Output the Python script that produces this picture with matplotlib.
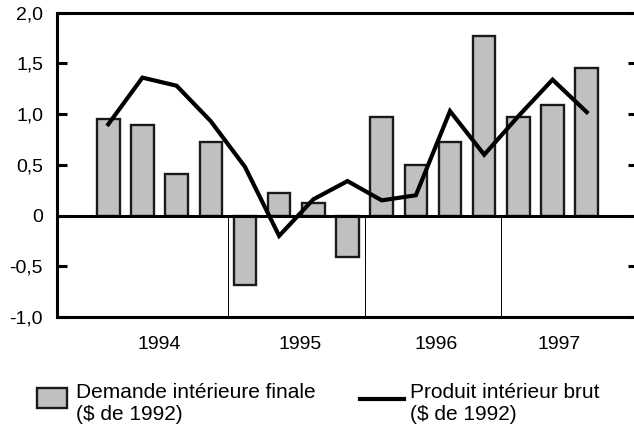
import matplotlib
matplotlib.use("Agg")
import matplotlib.pyplot as plt
from matplotlib.patches import Rectangle
from matplotlib.lines import Line2D
import numpy as np

plt.rcParams['font.family'] = ['Liberation Sans', 'DejaVu Sans']

quarters = ["1994T1", "1994T2", "1994T3", "1994T4",
            "1995T1", "1995T2", "1995T3", "1995T4",
            "1996T1", "1996T2", "1996T3", "1996T4",
            "1997T1", "1997T2", "1997T3"]
demande = [0.95, 0.89, 0.41, 0.73,
           -0.68, 0.22, 0.12, -0.41,
           0.97, 0.50, 0.73, 1.77,
           0.975, 1.09, 1.455]
pib = [0.90, 1.36, 1.28, 0.93,
       0.48, -0.20, 0.16, 0.34,
       0.15, 0.20, 1.03, 0.60,
       0.98, 1.34, 1.02]
years = ["1994", "1995", "1996", "1997"]
year_label_pos = [1.5, 5.6, 9.6, 13.2]
separators = [3.5, 7.5, 11.5]
yticks = [-1.0, -0.5, 0.0, 0.5, 1.0, 1.5, 2.0]
ytick_labels = ["-1,0", "-0,5", "0", "0,5", "1,0", "1,5", "2,0"]
legend_labels = ["Demande intérieure finale\n($ de 1992)",
                 "Produit intérieur brut\n($ de 1992)"]

W, H = 634, 426
fig = plt.figure(figsize=(W / 100, H / 100), dpi=100)
ax = fig.add_axes([57 / W, 1 - 317 / H, 581 / W, (317 - 12.7) / H])

x = np.arange(len(quarters))
ax.bar(x, demande, width=0.66, color="#c0c0c0", edgecolor="#1a1a1a",
       linewidth=1.7, zorder=2)
ax.plot(x, pib, color="black", linewidth=3.0, zorder=4,
        solid_joinstyle="miter")
ax.axhline(0, color="black", linewidth=2.2, zorder=3)
ax.vlines(separators, -1.0, 0.0, color="black", linewidth=0.7, zorder=1)

ax.set_xlim(-1.5, 15.5)
ax.set_ylim(-1.0, 2.0)
ax.set_yticks(yticks)
ax.set_yticklabels(ytick_labels, fontsize=14)
ax.tick_params(axis="y", direction="in", length=7.5, width=2.2,
               right=True, left=True, pad=10)
ax.set_xticks(year_label_pos)
ax.set_xticklabels(years, fontsize=14)
ax.tick_params(axis="x", length=0, pad=14)

for s in ["top", "left", "bottom"]:
    ax.spines[s].set_linewidth(2.2)
ax.spines["right"].set_visible(False)

# legend
fig.add_artist(Rectangle((37 / W, 1 - 408 / H), 30 / W, 20 / H,
                         transform=fig.transFigure, facecolor="#c0c0c0",
                         edgecolor="#1a1a1a", linewidth=1.7))
fig.text(76 / W, 1 - 403.5 / H, legend_labels[0], fontsize=15,
         ha="left", va="center", linespacing=1.22)
fig.add_artist(Line2D([360 / W, 404 / W], [1 - 399 / H, 1 - 399 / H],
                      transform=fig.transFigure, color="black", linewidth=3.0))
fig.text(410 / W, 1 - 403.5 / H, legend_labels[1], fontsize=15,
         ha="left", va="center", linespacing=1.22)

fig.savefig("out.png", dpi=100)
